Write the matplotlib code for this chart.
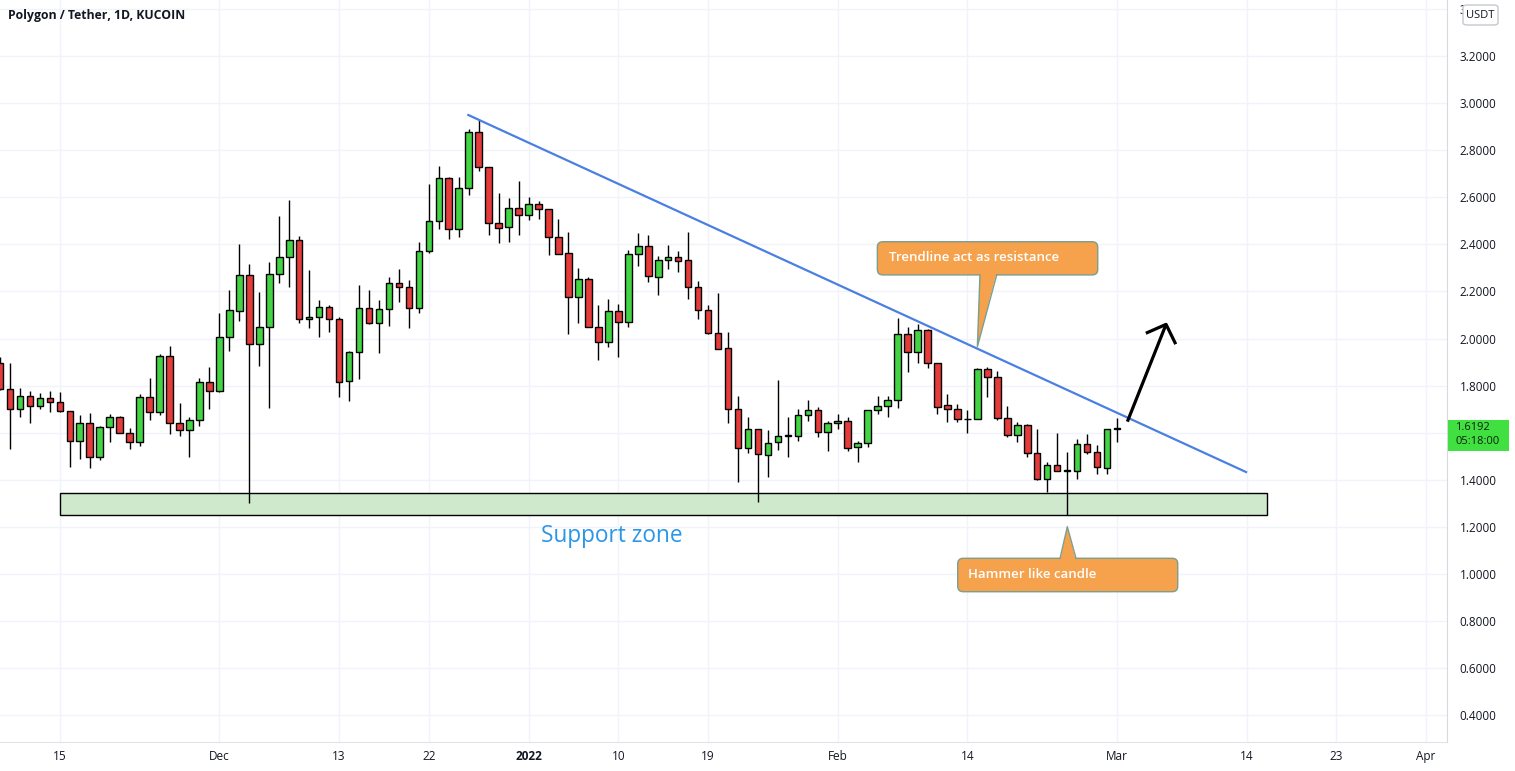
import numpy as np
import pandas as pd
import matplotlib
matplotlib.use("Agg")
import matplotlib.pyplot as plt
import matplotlib.dates as mdates
from matplotlib.patches import Rectangle, FancyBboxPatch, Polygon
from matplotlib.transforms import blended_transform_factory

plt.rcParams['font.family'] = ['Open Sans', 'DejaVu Sans']

# daily candles MATIC/USDT, Nov 9 2021 -> Mar 1 2022
dates = pd.date_range('2021-11-09', periods=113, freq='D')
opens = [1.896, 1.786, 1.699, 1.755, 1.712, 1.749, 1.729, 1.692, 1.563, 1.640,
         1.496, 1.623, 1.665, 1.597, 1.559, 1.750, 1.687, 1.926, 1.640, 1.611,
         1.654, 1.814, 1.778, 2.005, 2.118, 2.268, 1.975, 2.048, 2.273, 2.345,
         2.417, 2.082, 2.091, 2.135, 2.082, 1.818, 1.941, 2.128, 2.067, 2.124,
         2.234, 2.217, 2.128, 2.370, 2.498, 2.680, 2.464, 2.638, 2.876, 2.727,
         2.489, 2.472, 2.553, 2.523, 2.570, 2.550, 2.431, 2.362, 2.178, 2.251,
         2.050, 1.984, 2.117, 2.069, 2.359, 2.394, 2.262, 2.332, 2.346, 2.332,
         2.217, 2.120, 2.025, 1.958, 1.699, 1.536, 1.614, 1.504, 1.559, 1.587,
         1.587, 1.674, 1.695, 1.602, 1.640, 1.648, 1.538, 1.555, 1.695, 1.712,
         1.738, 2.019, 1.941, 2.035, 1.897, 1.716, 1.700, 1.658, 1.657, 1.869,
         1.835, 1.661, 1.592, 1.631, 1.513, 1.403, 1.463, 1.437, 1.439, 1.551,
         1.517, 1.451, 1.616]
highs = [1.920, 1.895, 1.791, 1.777, 1.769, 1.777, 1.773, 1.692, 1.675, 1.682,
         1.628, 1.679, 1.671, 1.620, 1.764, 1.834, 1.933, 1.969, 1.727, 1.665,
         1.831, 1.880, 2.107, 2.206, 2.401, 2.316, 2.197, 2.325, 2.520, 2.588,
         2.435, 2.291, 2.163, 2.141, 2.090, 1.946, 2.227, 2.206, 2.163, 2.260,
         2.295, 2.248, 2.408, 2.656, 2.732, 2.684, 2.684, 2.888, 2.928, 2.727,
         2.617, 2.595, 2.669, 2.600, 2.584, 2.550, 2.507, 2.451, 2.298, 2.262,
         2.142, 2.166, 2.146, 2.376, 2.447, 2.440, 2.350, 2.397, 2.372, 2.452,
         2.244, 2.142, 2.194, 2.029, 1.757, 1.668, 1.614, 1.611, 1.824, 1.668,
         1.701, 1.739, 1.708, 1.651, 1.678, 1.665, 1.565, 1.697, 1.756, 1.756,
         2.086, 2.050, 2.062, 2.040, 1.897, 1.763, 1.721, 1.696, 1.873, 1.878,
         1.862, 1.713, 1.645, 1.637, 1.616, 1.474, 1.597, 1.519, 1.572, 1.594,
         1.548, 1.614, 1.661]
lows = [1.780, 1.530, 1.666, 1.640, 1.699, 1.689, 1.690, 1.453, 1.490, 1.449,
        1.484, 1.560, 1.597, 1.530, 1.545, 1.654, 1.675, 1.593, 1.586, 1.498,
        1.630, 1.699, 1.774, 1.948, 2.076, 1.301, 1.884, 1.706, 2.234, 2.220,
        2.065, 2.043, 2.008, 2.029, 1.753, 1.736, 1.828, 2.060, 1.940, 2.054,
        2.156, 2.046, 2.110, 2.365, 2.465, 2.424, 2.432, 2.609, 2.713, 2.440,
        2.404, 2.411, 2.440, 2.503, 2.506, 2.355, 2.360, 2.018, 2.067, 2.050,
        1.909, 1.965, 1.923, 2.050, 2.309, 2.241, 2.185, 2.294, 2.284, 2.166,
        2.082, 2.018, 1.957, 1.642, 1.392, 1.513, 1.307, 1.413, 1.527, 1.498,
        1.566, 1.651, 1.580, 1.524, 1.614, 1.524, 1.477, 1.538, 1.678, 1.668,
        1.704, 1.859, 1.895, 1.873, 1.678, 1.647, 1.647, 1.600, 1.657, 1.750,
        1.654, 1.583, 1.562, 1.496, 1.399, 1.350, 1.436, 1.250, 1.405, 1.508,
        1.423, 1.425, 1.559]
closes = [1.786, 1.702, 1.755, 1.712, 1.749, 1.730, 1.692, 1.563, 1.640, 1.496,
          1.623, 1.665, 1.597, 1.559, 1.750, 1.687, 1.926, 1.640, 1.611, 1.654,
          1.814, 1.778, 2.005, 2.121, 2.268, 1.975, 2.048, 2.273, 2.345, 2.417,
          2.082, 2.091, 2.135, 2.082, 1.814, 1.941, 2.128, 2.067, 2.124, 2.234,
          2.217, 2.128, 2.370, 2.498, 2.680, 2.464, 2.638, 2.876, 2.727, 2.489,
          2.470, 2.553, 2.523, 2.570, 2.549, 2.430, 2.360, 2.178, 2.251, 2.050,
          1.984, 2.117, 2.069, 2.359, 2.394, 2.265, 2.332, 2.346, 2.328, 2.217,
          2.120, 2.025, 1.957, 1.699, 1.536, 1.614, 1.508, 1.555, 1.587, 1.589,
          1.674, 1.695, 1.602, 1.640, 1.648, 1.536, 1.555, 1.695, 1.712, 1.738,
          2.019, 1.941, 2.035, 1.895, 1.710, 1.700, 1.657, 1.657, 1.869, 1.835,
          1.661, 1.592, 1.631, 1.513, 1.403, 1.463, 1.436, 1.440, 1.551, 1.517,
          1.453, 1.614, 1.6192]

tick_dates = ['2021-11-15', '2021-12-01', '2021-12-13', '2021-12-22', '2022-01-01',
              '2022-01-10', '2022-01-19', '2022-02-01', '2022-02-14', '2022-03-01',
              '2022-03-14', '2022-03-23', '2022-04-01']
tick_labels = ['15', 'Dec', '13', '22', '2022', '10', '19', 'Feb', '14', 'Mar',
               '14', '23', 'Apr']
price_ticks = np.arange(0.4, 3.41, 0.2)

GREEN = '#42d442'
RED = '#e53b3b'
BLUE = '#4a7fe3'
ORANGE = '#f6a14c'
TEXT = '#131722'
GRID = '#f0f3fa'

fig = plt.figure(figsize=(15.15, 7.71), dpi=100)
ax = fig.add_axes([0, 29 / 771, 1447 / 1515, 742 / 771])

x = mdates.date2num(dates)
t0 = x[0]
o = np.array(opens); c = np.array(closes)
cols = [GREEN if cc >= oo else RED for oo, cc in zip(o, c)]

# wicks then bodies
ax.vlines(x, lows, highs, color='black', lw=1, zorder=3)
body = np.maximum(np.abs(c - o), 0.0015)
ax.bar(x, body, bottom=np.minimum(o, c), width=0.66, color=cols,
       edgecolor='black', linewidth=1, zorder=4)

# support zone
ax.add_patch(Rectangle((t0 + 6.02, 1.251), 121.0, 0.093, facecolor='#cfe9cc',
                       edgecolor='black', lw=1, zorder=2))
ax.text(t0 + 61.3, 1.161, 'Support zone', color='#2a96e8', fontsize=16.3,
        ha='center', va='center')

# trend line
ax.plot([t0 + 46.96, t0 + 124.94], [2.949, 1.433], color=BLUE, lw=1.6, zorder=5)

# breakout arrow
ax.plot([t0 + 113.04, t0 + 116.92], [1.647, 2.060], color='black', lw=2.3,
        solid_capstyle='butt', zorder=6)
ax.plot([t0 + 115.04, t0 + 116.92, t0 + 117.82], [2.025, 2.060, 1.982],
        color='black', lw=2.3, zorder=6)


def callout(x0, x1, ytop, ybot, base, tip, text, tx, ty):
    box = FancyBboxPatch((t0 + x0, ybot), x1 - x0, ytop - ybot,
                         boxstyle='round,pad=0,rounding_size=0.55',
                         mutation_aspect=0.0425, facecolor=ORANGE,
                         edgecolor='#7a9e90', lw=1, zorder=7)
    ax.add_patch(box)
    # tail: base on box edge, tip at target
    if tip[1] < ybot:
        edge, inner = ybot, ybot + 0.012
    else:
        edge, inner = ytop, ytop - 0.012
    tri = Polygon([(t0 + base[0], inner), (t0 + base[1], inner), (t0 + tip[0], tip[1])],
                  closed=True, facecolor=ORANGE, edgecolor='none', zorder=8)
    ax.add_patch(tri)
    ax.plot([t0 + base[0], t0 + tip[0], t0 + base[1]], [edge, tip[1], edge],
            color='#7a9e90', lw=1, zorder=8)
    ax.text(t0 + tx, ty, text, color='white', fontsize=9.5, fontweight='semibold',
            ha='left', va='center', zorder=9)


callout(87.97, 110.07, 2.411, 2.270, (98.26, 99.94), (98.0, 1.965),
        'Trendline act as resistance', 89.1, 2.342)
callout(96.03, 118.09, 1.0667, 0.9248, (106.29, 107.89), (107.02, 1.201),
        'Hammer like candle', 97.1, 0.996)

# axes styling
ax.set_xlim(t0, t0 + 145.09)
ax.set_ylim(0.2866, 3.4374)
ax.set_xticks(mdates.date2num(pd.to_datetime(tick_dates)))
ax.set_xticklabels(tick_labels)
ax.xaxis.get_ticklabels()[4].set_fontweight('bold')
ax.set_yticks(price_ticks)
ax.set_yticklabels(['%.4f' % v for v in price_ticks])
ax.yaxis.tick_right()
ax.tick_params(axis='x', length=0, pad=6, labelsize=8.5, labelcolor=TEXT)
ax.tick_params(axis='y', length=0, pad=9, labelsize=8.5, labelcolor=TEXT)
ax.grid(True, color=GRID, lw=1, zorder=0)
ax.set_axisbelow(True)
for s in ['top', 'left']:
    ax.spines[s].set_visible(False)
ax.spines['right'].set_color('#d6d9e0')
ax.spines['bottom'].set_color('#e0e3eb')

# title
fig.text(8 / 1515, 1 - 16 / 771, 'Polygon / Tether, 1D, KUCOIN', fontsize=8.8,
         fontweight='bold', color=TEXT, ha='left', va='center')

# last price label
tr = blended_transform_factory(fig.transFigure, ax.transData)
ax.add_patch(Rectangle((1447.7 / 1515, 1.522), 61.6 / 1515, 0.132, transform=tr,
                       facecolor='#3fe03f', edgecolor='none', clip_on=False, zorder=10))
ax.text(1455 / 1515, 1.622, '%.4f' % closes[-1], transform=tr, fontsize=8,
        color='#102010', ha='left', va='center', clip_on=False, zorder=11)
ax.text(1455 / 1515, 1.563, '05:18:00', transform=tr, fontsize=8,
        color='#102010', ha='left', va='center', clip_on=False, zorder=11)

# currency badge
fig.patches.append(FancyBboxPatch((1463 / 1515, 1 - 25 / 771), 35 / 1515, 20 / 771,
                                  boxstyle='round,pad=0,rounding_size=0.003',
                                  transform=fig.transFigure, facecolor='white',
                                  edgecolor='#c5c8ce', lw=1, zorder=10))
fig.text(1480.5 / 1515, 1 - 15 / 771, 'USDT', fontsize=8, color=TEXT,
         ha='center', va='center', zorder=11)

fig.savefig('out.png', dpi=100)
